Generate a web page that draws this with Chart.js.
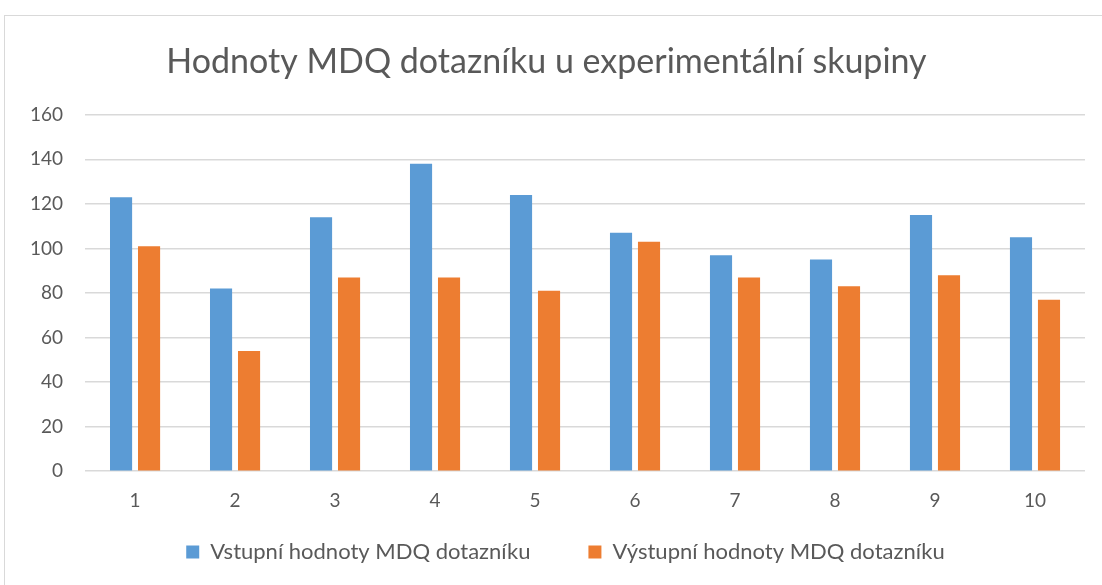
<!DOCTYPE html>
<html>
<head>
<meta charset="utf-8">
<script src="https://cdn.jsdelivr.net/npm/chart.js@4/dist/chart.umd.min.js"></script>
<style>
  html, body { margin: 0; padding: 0; background: #fff; }
  #wrap { position: absolute; left: 4px; top: 15px; width: 1102px; height: 585px; border: 1px solid #d9d9d9; box-sizing: border-box; }
  #c { position: absolute; left: 0; top: 0; }
</style>
</head>
<body>
<div id="wrap"></div>
<canvas id="c" width="1102" height="585"></canvas>
<script>
const categories = ["1","2","3","4","5","6","7","8","9","10"];
const vstupni = [123, 82, 114, 138, 124, 107, 97, 95, 115, 105];
const vystupni = [101, 54, 87, 87, 81, 103, 87, 83, 88, 77];
const seriesNames = ["Vstupní hodnoty MDQ dotazníku", "Výstupní hodnoty MDQ dotazníku"];
const titleText = "Hodnoty MDQ dotazníku u experimentální skupiny";

const fontFam = "Lato, 'Open Sans', sans-serif";
const LEGEND_SHIFT = 47;
const LEGEND_XSHIFT = 19;

// Reduce the empty space the legend reserves above its items (its padding also sets item spacing).
const legendTweak = {
  id: 'legendTweak',
  beforeLayout(chart) {
    const lg = chart.legend;
    if (lg && !lg._tweaked) {
      const origFit = lg.fit.bind(lg);
      lg.fit = function () { origFit(); this.height -= LEGEND_SHIFT; };
      lg._tweaked = true;
    }
  },
  afterLayout(chart) {
    const lg = chart.legend;
    if (lg) {
      lg.top -= LEGEND_SHIFT;
      lg.left += LEGEND_XSHIFT;
      lg.right += LEGEND_XSHIFT;
    }
  }
};

new Chart(document.getElementById('c'), {
  type: 'bar',
  data: {
    labels: categories,
    datasets: [
      { label: seriesNames[0], data: vstupni, backgroundColor: '#5b9bd5', barPercentage: 0.79, categoryPercentage: 0.56 },
      { label: seriesNames[1], data: vystupni, backgroundColor: '#ed7d31', barPercentage: 0.79, categoryPercentage: 0.56 }
    ]
  },
  plugins: [legendTweak],
  options: {
    responsive: false,
    animation: false,
    layout: { padding: { left: 8, right: 17, top: 42, bottom: 12 } },
    plugins: {
      title: {
        display: true, text: titleText, color: '#595959',
        font: { family: fontFam, size: 34, weight: 'normal' },
        padding: { top: 0, bottom: 32 }
      },
      legend: {
        position: 'bottom',
        labels: {
          color: '#595959', font: { family: fontFam, size: 22 },
          boxWidth: 13, boxHeight: 13, padding: 58
        }
      },
      tooltip: { enabled: false }
    },
    scales: {
      x: {
        grid: { display: false, drawTicks: false },
        border: { display: false },
        ticks: { color: '#595959', font: { family: fontFam, size: 19 }, padding: 18 }
      },
      y: {
        min: 0, max: 160,
        ticks: { stepSize: 20, color: '#595959', font: { family: fontFam, size: 19 }, padding: 22 },
        grid: { color: '#d9d9d9', lineWidth: 1.5, drawTicks: false },
        border: { display: false }
      }
    }
  }
});
</script>
</body>
</html>
